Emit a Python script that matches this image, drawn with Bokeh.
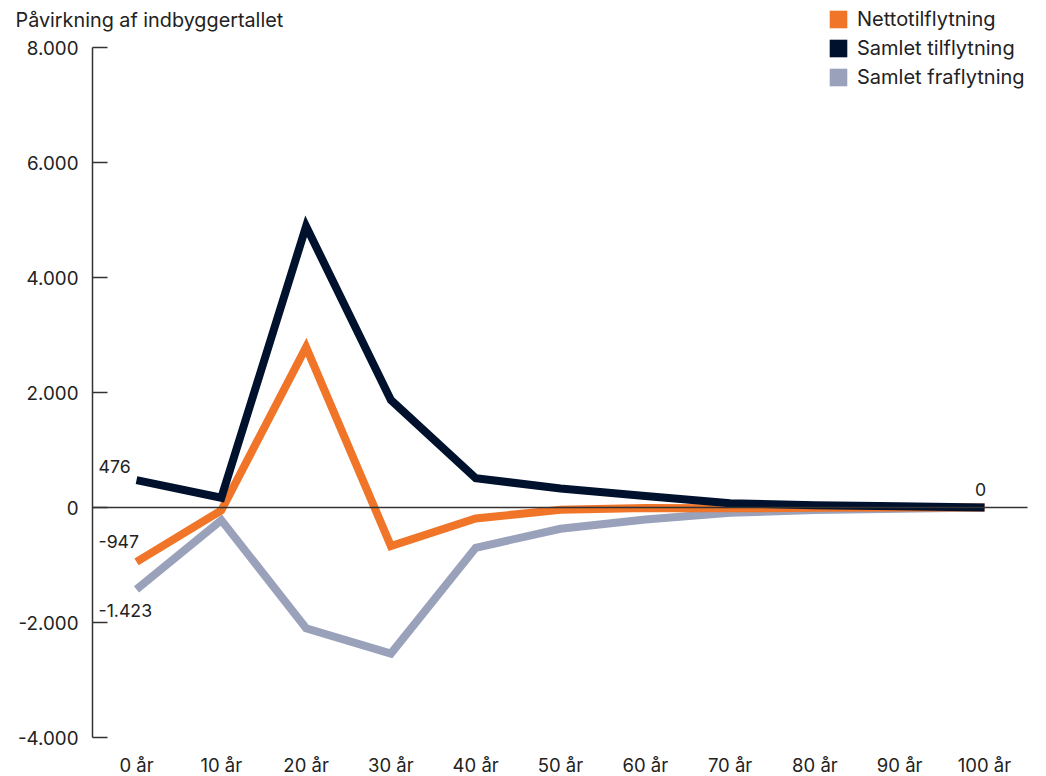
from bokeh.plotting import figure
from bokeh.models import (Range1d, FixedTicker, Label, Legend, LegendItem, LinearAxis)
from bokeh.embed import file_html
from bokeh.resources import INLINE

years = [0, 10, 20, 30, 40, 50, 60, 70, 80, 90, 100]
x_labels = ["0 år", "10 år", "20 år", "30 år", "40 år", "50 år", "60 år", "70 år", "80 år", "90 år", "100 år"]
y_ticks = [-4000, -2000, 0, 2000, 4000, 6000, 8000]

netto = [-947, -50, 2790, -670, -190, -40, -10, -15, -5, 0, 0]
tilflytning = [476, 170, 4890, 1870, 510, 330, 200, 75, 40, 20, 0]
fraflytning = [-1423, -220, -2100, -2540, -700, -370, -210, -90, -45, -20, 0]

series_names = ["Nettotilflytning", "Samlet tilflytning", "Samlet fraflytning"]
colors = ["#F07529", "#00112E", "#9AA1BA"]

FONT = "Inter"
TXT = "#222222"

# layout constants (pixels)
W, H = 1046, 776
PX_PER_YEAR = 8.48
X0_PAGE = 136          # page x of year 0
AXIS_PAGE_X = 92       # page x of y-axis line
ZERO_END_PAGE_X = 1027 # page x where zero line ends
TOP_TICK_PAGE_Y = 47   # page y of top tick
BOTTOM_PAGE_Y = 737    # page y of bottom tick
PX_PER_UNIT = (BOTTOM_PAGE_Y - TOP_TICK_PAGE_Y) / (y_ticks[-1] - y_ticks[0])


def page_x_to_data(px):
    return (px - X0_PAGE) / PX_PER_YEAR


x_start = page_x_to_data(0)
x_end = page_x_to_data(W)
y_axis_x = page_x_to_data(AXIS_PAGE_X)
y_end = y_ticks[-1] + TOP_TICK_PAGE_Y / PX_PER_UNIT
y_start = y_ticks[0] - (H - BOTTOM_PAGE_Y) / PX_PER_UNIT


def fmt(v):
    s = f"{abs(int(v)):,}".replace(",", ".")
    return ("-" if v < 0 else "") + s


p = figure(width=W, height=H, output_backend="svg", toolbar_location=None,
           x_range=Range1d(x_start, x_end), y_range=Range1d(y_start, y_end),
           min_border_left=0, min_border_right=0, min_border_top=0, min_border_bottom=0,
           x_axis_location=None, y_axis_location=None)
p.outline_line_color = None
p.xgrid.visible = False
p.ygrid.visible = False
p.background_fill_color = "white"

# y axis (fixed inside the frame)
yax = LinearAxis(ticker=FixedTicker(ticks=y_ticks), fixed_location=y_axis_x,
                 bounds=(y_ticks[0], y_ticks[-1]),
                 major_label_overrides={t: fmt(t) for t in y_ticks})
yax.axis_line_color = "#333333"
yax.axis_line_width = 1.5
yax.major_tick_line_color = "#333333"
yax.major_tick_line_width = 1.5
yax.major_tick_in = 15
yax.major_tick_out = 0
yax.minor_tick_line_color = None
yax.major_label_standoff = 14
yax.major_label_text_font = FONT
yax.major_label_text_font_size = "18.8px"
yax.major_label_text_color = TXT
p.add_layout(yax, "left")

# zero line as a fixed axis at y=0
zax = LinearAxis(ticker=FixedTicker(ticks=[]), fixed_location=0,
                 bounds=(y_axis_x, page_x_to_data(ZERO_END_PAGE_X)))
zax.axis_line_color = "#333333"
zax.axis_line_width = 1.5
zax.major_tick_line_color = None
zax.minor_tick_line_color = None
zax.major_label_text_font_size = "0px"
p.add_layout(zax, "below")

# x axis (labels only), fixed at the bottom tick value
xax = LinearAxis(ticker=FixedTicker(ticks=years), fixed_location=y_ticks[0],
                 major_label_overrides=dict(zip(years, x_labels)))
xax.axis_line_color = None
xax.major_tick_line_color = None
xax.minor_tick_line_color = None
xax.major_label_standoff = 10
xax.major_label_text_font = FONT
xax.major_label_text_font_size = "18.5px"
xax.major_label_text_color = TXT
p.add_layout(xax, "below")

# lines (draw order: fraflytning, netto, tilflytning)
for vals, col in [(fraflytning, colors[2]), (netto, colors[0]), (tilflytning, colors[1])]:
    p.line(years, vals, line_color=col, line_width=8, line_join="miter", line_cap="butt")

# legend dummy renderers
nan = float("nan")
items = []
for name, col in zip(series_names, colors):
    r = p.quad(left=[nan], right=[nan], top=[nan], bottom=[nan], fill_color=col, line_color=None)
    items.append(LegendItem(label=name, renderers=[r]))
legend = Legend(items=items, location=(827, H - 89), orientation="vertical",
                glyph_width=22, glyph_height=22, label_height=22, spacing=5,
                label_standoff=8, padding=0, margin=0,
                border_line_color=None, background_fill_alpha=0,
                label_text_font=FONT, label_text_font_size="20px", label_text_color=TXT)
p.add_layout(legend, "center")

# title
p.add_layout(Label(x=15, y=H - 19, x_units="screen", y_units="screen",
                   text="Påvirkning af indbyggertallet", text_font=FONT,
                   text_font_size="19.8px", text_color=TXT, text_baseline="middle",
                   text_align="left"))

# data labels
lab_kw = dict(text_font=FONT, text_font_size="17.7px", text_color=TXT,
              text_baseline="middle", text_align="left")
p.add_layout(Label(x=years[0], y=tilflytning[0], text=fmt(tilflytning[0]),
                   x_offset=-38, y_offset=14, **lab_kw))
p.add_layout(Label(x=years[0], y=netto[0], text=fmt(netto[0]),
                   x_offset=-38, y_offset=20, **lab_kw))
p.add_layout(Label(x=years[0], y=fraflytning[0], text=fmt(fraflytning[0]),
                   x_offset=-38, y_offset=-21, **lab_kw))
lab_kw2 = dict(lab_kw, text_align="center")
p.add_layout(Label(x=years[-1], y=tilflytning[-1], text=fmt(tilflytning[-1]),
                   x_offset=-4, y_offset=18, **lab_kw2))

open("out.html", "w").write(file_html(p, INLINE))
